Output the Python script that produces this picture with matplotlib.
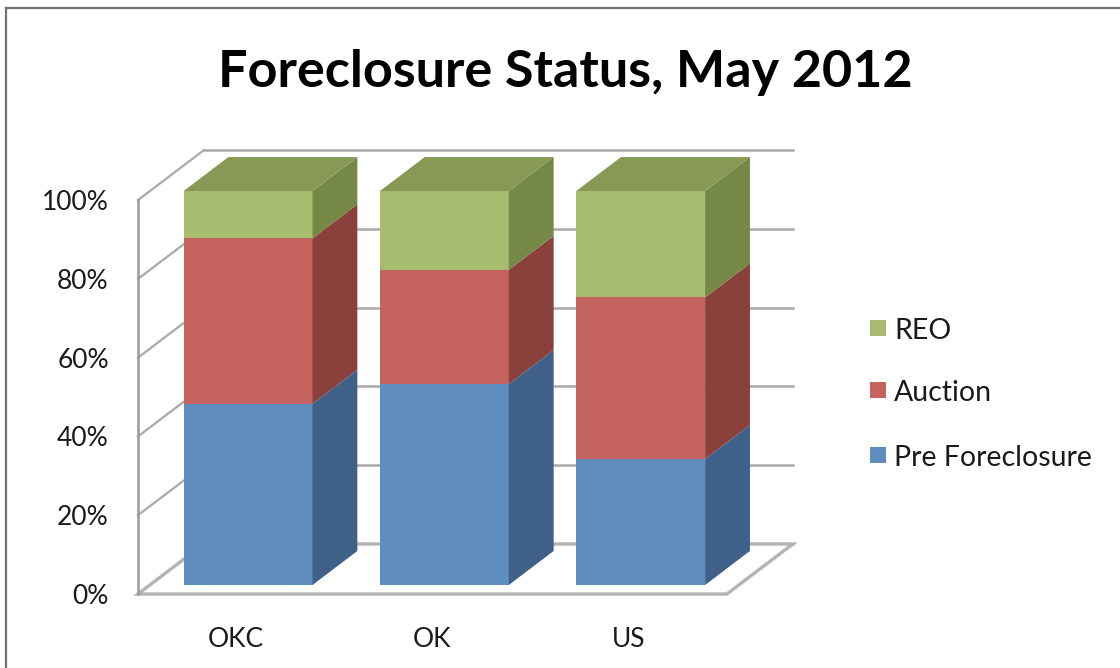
import matplotlib
matplotlib.use("Agg")
import matplotlib.pyplot as plt
from matplotlib.patches import Polygon, Rectangle
from matplotlib.lines import Line2D
from matplotlib.ticker import FuncFormatter

# Foreclosure status by area, May 2012 (share of properties, %)
categories = ["OKC", "OK", "US"]
series_names = ["Pre Foreclosure", "Auction", "REO"]
pre_foreclosure = [46, 51, 32]
auction = [42, 29, 41]
reo = [12, 20, 27]
y_ticks = [0, 20, 40, 60, 80, 100]

series_values = [pre_foreclosure, auction, reo]
# front face, side face, top face
face_colors = [
    ("#5f8dbe", "#3f6189", "#4f76a3"),
    ("#c5645e", "#8a413b", "#a9524c"),
    ("#a7bc6e", "#768846", "#879955"),
]

plt.rcParams["font.family"] = ["Lato", "DejaVu Sans"]

W, H = 1120, 668
fig = plt.figure(figsize=(W / 100, H / 100), dpi=100)
ax = fig.add_axes([138 / W, 74 / H, 657.6 / W, 453 / H])
ax.set_xlim(-0.5, 2.85)
ax.set_ylim(0, 115)

# oblique depth vector of the whole plot box (x units, y percent)
DX, DY = 0.336, 12.7
bar_w = 0.657
d0, d1 = 0.18, 0.86  # depth range occupied by the bars

def proj(x, y, d):
    return (x + d * DX, y + d * DY)

grid_c = "#a9a9a9"
x_lo, x_hi = -0.5, len(categories) - 0.5

# back wall gridlines
for v in y_ticks:
    p, q = proj(x_lo, v, 1), proj(x_hi, v, 1)
    ax.add_line(Line2D([p[0], q[0]], [p[1], q[1]], color=grid_c, lw=1.8,
                       zorder=1, clip_on=False))
# side wall diagonals
for v in y_ticks:
    p, q = proj(x_lo, v, 0), proj(x_lo, v, 1)
    ax.add_line(Line2D([p[0], q[0]], [p[1], q[1]], color=grid_c, lw=1.6,
                       zorder=1, clip_on=False))
# front vertical axis line
ax.add_line(Line2D([x_lo, x_lo], [0, 100], color="#9a9a9a", lw=1.8, zorder=2, clip_on=False))
# floor outline
floor = [proj(x_lo, 0, 0), proj(x_hi, 0, 0), proj(x_hi, 0, 1), proj(x_lo, 0, 1)]
ax.add_patch(Polygon(floor, closed=True, facecolor="white", edgecolor="#b3b3b3",
                     lw=2.4, zorder=1.5, clip_on=False))

# stacked 3D bars
for i in range(len(categories)):
    base = 0
    n = len(series_values)
    for s in range(n):
        val = series_values[s][i]
        top = base + val
        front, side, topc = face_colors[s]
        xl, xr = i - bar_w / 2, i + bar_w / 2
        fr = [proj(xl, base, d0), proj(xr, base, d0), proj(xr, top, d0), proj(xl, top, d0)]
        sd = [proj(xr, base, d0), proj(xr, base, d1), proj(xr, top, d1), proj(xr, top, d0)]
        ax.add_patch(Polygon(fr, closed=True, facecolor=front, edgecolor="none", zorder=3 + s))
        ax.add_patch(Polygon(sd, closed=True, facecolor=side, edgecolor="none", zorder=3 + s))
        if s == n - 1:
            tp = [proj(xl, top, d0), proj(xr, top, d0), proj(xr, top, d1), proj(xl, top, d1)]
            ax.add_patch(Polygon(tp, closed=True, facecolor=topc, edgecolor="none", zorder=3 + s))
        base = top

# axes ticks and labels
ax.set_yticks(y_ticks)
ax.yaxis.set_major_formatter(FuncFormatter(lambda v, _: f"{int(v)}%"))
ax.set_xticks(range(len(categories)))
ax.set_xticklabels(categories)
ax.tick_params(axis="y", length=0, pad=21, labelsize=19, labelcolor="#1a1a1a")
ax.tick_params(axis="x", length=0, pad=24, labelsize=19, labelcolor="#1a1a1a")
for sp in ax.spines.values():
    sp.set_visible(False)
ax.patch.set_alpha(0)

# title
fig.text(565.5 / W, 1 - 87 / H, "Foreclosure Status, May 2012", ha="center",
         va="baseline", fontsize=37.5, fontweight="bold", color="black")

# legend (top to bottom: REO, Auction, Pre Foreclosure)
leg_y = [328, 390, 455]
for k, s in enumerate(reversed(range(len(series_names)))):
    yc = leg_y[k]
    fig.add_artist(Rectangle((870 / W, 1 - (yc + 8) / H), 16 / W, 16 / H,
                             transform=fig.transFigure, facecolor=face_colors[s][0],
                             edgecolor="none"))
    fig.text(894 / W, 1 - (yc + 3) / H, series_names[s], ha="left", va="center",
             fontsize=20.5, color="#1a1a1a")

# outer frame (top and left edges)
fig.add_artist(Line2D([6 / W, 1], [1 - 8 / H, 1 - 8 / H], transform=fig.transFigure,
                      color="#707070", lw=1.6))
fig.add_artist(Line2D([6 / W, 6 / W], [0, 1 - 8 / H], transform=fig.transFigure,
                      color="#707070", lw=1.6))

fig.savefig("out.png", dpi=100, facecolor="white")
